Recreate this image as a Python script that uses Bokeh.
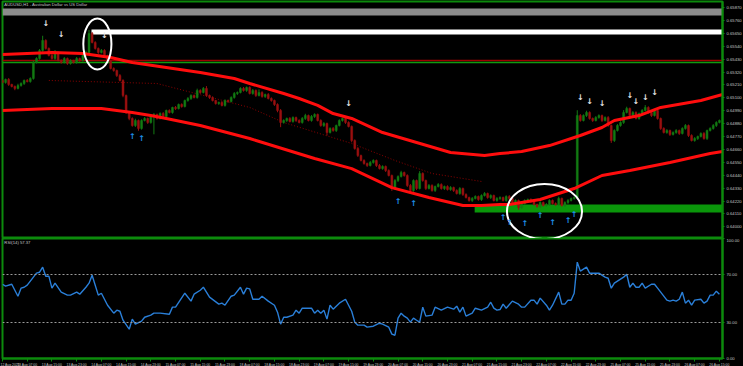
import numpy as np
from bokeh.plotting import figure
from bokeh.layouts import column
from bokeh.models import Range1d, FixedTicker, Label, Span, BoxAnnotation, PrintfTickFormatter
from bokeh.core.properties import value
from bokeh.embed import file_html
from bokeh.resources import INLINE

# ---------------- data ----------------
first_open = 0.65248
close = [
    0.65231, 0.65256, 0.65214, 0.65197, 0.65180, 0.65205, 0.65222, 0.65248, 0.65239, 0.65265,
    0.65401, 0.65435, 0.65504, 0.65589, 0.65521, 0.65461, 0.65435, 0.65487, 0.65418, 0.65401,
    0.65435, 0.65393, 0.65418, 0.65401, 0.65435, 0.65418, 0.65461, 0.65487, 0.65649, 0.65572,
    0.65521, 0.65487, 0.65504, 0.65461, 0.65418, 0.65350, 0.65333, 0.65290, 0.65248, 0.65120,
    0.64975, 0.64924, 0.64864, 0.64907, 0.64839, 0.64907, 0.64924, 0.64890, 0.64949, 0.64958,
    0.64924, 0.64966, 0.64941, 0.64992, 0.64975, 0.65018, 0.65009, 0.65043, 0.65026, 0.65077,
    0.65094, 0.65120, 0.65103, 0.65163, 0.65146, 0.65180, 0.65120, 0.65103, 0.65077, 0.65052,
    0.65060, 0.65035, 0.65077, 0.65069, 0.65103, 0.65137, 0.65146, 0.65180, 0.65163, 0.65188,
    0.65137, 0.65163, 0.65120, 0.65146, 0.65111, 0.65128, 0.65094, 0.65077, 0.65043, 0.64992,
    0.64890, 0.64907, 0.64924, 0.64898, 0.64932, 0.64907, 0.64890, 0.64924, 0.64949, 0.64907,
    0.64941, 0.64958, 0.64907, 0.64864, 0.64881, 0.64804, 0.64839, 0.64821, 0.64864, 0.64907,
    0.64924, 0.64890, 0.64856, 0.64736, 0.64668, 0.64608, 0.64566, 0.64540, 0.64523, 0.64549,
    0.64566, 0.64523, 0.64497, 0.64515, 0.64480, 0.64438, 0.64327, 0.64395, 0.64429, 0.64463,
    0.64438, 0.64353, 0.64310, 0.64395, 0.64327, 0.64455, 0.64395, 0.64327, 0.64353, 0.64310,
    0.64344, 0.64361, 0.64327, 0.64344, 0.64318, 0.64335, 0.64310, 0.64284, 0.64327, 0.64276,
    0.64250, 0.64225, 0.64242, 0.64259, 0.64233, 0.64267, 0.64284, 0.64250, 0.64267, 0.64225,
    0.64242, 0.64250, 0.64225, 0.64259, 0.64242, 0.64208, 0.64225, 0.64165, 0.64199, 0.64225,
    0.64233, 0.64216, 0.64190, 0.64173, 0.64208, 0.64182, 0.64190, 0.64225, 0.64199, 0.64190,
    0.64242, 0.64182, 0.64208, 0.64225, 0.64242, 0.64250, 0.64949, 0.64907, 0.64949, 0.64975,
    0.64924, 0.64907, 0.64932, 0.64949, 0.64907, 0.64932, 0.64864, 0.64736, 0.64821, 0.64864,
    0.64890, 0.64975, 0.65009, 0.64949, 0.64975, 0.64924, 0.64966, 0.64992, 0.65018, 0.64975,
    0.64949, 0.64992, 0.64924, 0.64839, 0.64804, 0.64821, 0.64787, 0.64804, 0.64821, 0.64796,
    0.64839, 0.64864, 0.64779, 0.64736, 0.64753, 0.64770, 0.64796, 0.64753, 0.64821, 0.64839,
    0.64864, 0.64890, 0.64907,
]
# wick lengths beyond the body, in points (0.00001)
wick_hi = [
    10, 8, 12, 6, 8, 15, 10, 8, 12, 10,
    15, 10, 12, 40, 10, 8, 12, 20, 8, 10,
    12, 8, 10, 6, 12, 8, 10, 15, 30, 12,
    10, 8, 12, 10, 6, 8, 10, 8, 12, 10,
    8, 12, 10, 15, 8, 10, 12, 8, 10, 12,
    8, 10, 12, 8, 10, 6, 12, 8, 10, 8,
    12, 10, 8, 15, 10, 12, 20, 8, 10, 6,
    8, 12, 10, 8, 10, 12, 8, 10, 12, 8,
    10, 12, 8, 25, 10, 8, 12, 10, 8, 10,
    12, 10, 8, 12, 10, 8, 10, 12, 15, 8,
    12, 10, 8, 10, 12, 8, 10, 12, 8, 10,
    8, 12, 10, 8, 10, 12, 8, 10, 8, 12,
    10, 8, 12, 10, 8, 10, 8, 12, 10, 15,
    8, 10, 12, 10, 8, 20, 10, 8, 12, 10,
    8, 12, 10, 8, 10, 12, 8, 10, 12, 8,
    10, 8, 12, 10, 8, 10, 12, 8, 10, 8,
    12, 10, 8, 10, 12, 8, 10, 8, 12, 10,
    8, 10, 12, 8, 10, 8, 12, 10, 8, 10,
    15, 8, 10, 12, 8, 10, 45, 12, 10, 15,
    10, 8, 12, 10, 8, 10, 12, 8, 10, 12,
    10, 20, 15, 8, 12, 10, 8, 12, 20, 10,
    12, 15, 10, 8, 10, 12, 8, 10, 12, 8,
    10, 12, 8, 10, 12, 8, 10, 12, 8, 10,
    12, 10, 8,
]
wick_lo = [
    8, 10, 12, 8, 15, 8, 10, 12, 8, 10,
    10, 8, 10, 12, 10, 8, 10, 12, 8, 10,
    8, 12, 10, 8, 10, 12, 8, 10, 12, 8,
    10, 12, 8, 10, 12, 8, 10, 12, 8, 15,
    12, 15, 10, 12, 20, 10, 8, 12, 10, 160,
    10, 8, 12, 10, 8, 10, 12, 8, 10, 8,
    10, 12, 8, 10, 12, 8, 10, 12, 8, 10,
    12, 8, 10, 12, 8, 10, 12, 8, 10, 12,
    8, 10, 12, 8, 10, 12, 8, 10, 12, 15,
    40, 10, 12, 8, 10, 12, 8, 10, 12, 8,
    10, 12, 8, 10, 12, 25, 8, 10, 12, 8,
    10, 12, 8, 15, 10, 12, 8, 10, 12, 8,
    10, 12, 8, 10, 12, 8, 20, 10, 12, 8,
    10, 12, 8, 10, 12, 8, 10, 12, 8, 10,
    12, 8, 10, 12, 8, 10, 12, 8, 10, 12,
    8, 10, 12, 8, 10, 12, 8, 10, 12, 8,
    10, 12, 8, 10, 12, 8, 10, 20, 12, 8,
    10, 12, 8, 10, 12, 8, 10, 12, 8, 10,
    12, 8, 10, 12, 8, 10, 12, 10, 8, 12,
    10, 12, 8, 10, 12, 8, 10, 20, 12, 8,
    10, 12, 8, 10, 12, 8, 10, 12, 8, 10,
    12, 8, 10, 12, 8, 10, 12, 8, 10, 12,
    8, 10, 12, 8, 10, 12, 8, 10, 12, 8,
    10, 12, 8,
]

# envelope bands (bar, price)
upper_band = [(0, 0.65470), (16, 0.65487), (26, 0.65478), (35, 0.65444), (42, 0.65401),
              (53, 0.65359), (64, 0.65316), (75, 0.65265), (80, 0.65222), (91, 0.65137),
              (96, 0.65094), (102, 0.65035), (107, 0.64966), (113, 0.64924), (123, 0.64804),
              (134, 0.64719), (145, 0.64634), (156, 0.64608), (161, 0.64625), (168, 0.64642),
              (177, 0.64693), (187, 0.64779), (194, 0.64847), (198, 0.64907), (206, 0.64949),
              (213, 0.65018), (226, 0.65077), (233, 0.65128)]
lower_band = [(0, 0.64992), (16, 0.65009), (32, 0.65009), (42, 0.64975), (48, 0.64949),
              (53, 0.64924), (64, 0.64864), (80, 0.64753), (101, 0.64583), (113, 0.64497),
              (126, 0.64335), (138, 0.64250), (149, 0.64182), (155, 0.64182), (161, 0.64190),
              (164, 0.64190), (174, 0.64233), (185, 0.64327), (194, 0.64438), (203, 0.64480),
              (216, 0.64549), (229, 0.64625), (233, 0.64642)]
trend_line = [(15, 0.65248), (50, 0.65222), (80, 0.65018), (91, 0.64890), (113, 0.64711),
              (127, 0.64566), (139, 0.64455), (155, 0.64387)]

# horizontal objects (bottom, top, start bar)
gray_zone = (0.65802, 0.65862)
white_zone = (0.65640, 0.65683, 28.8)
green_zone = (0.64122, 0.64190, 152.8)
red_level = 0.65418
green_level = 0.65401

# signal arrows (bar, price)
down_arrows = [(14, 0.65734), (19, 0.65640), (33, 0.65631), (112, 0.65052), (187, 0.65103),
               (190, 0.65069), (194, 0.65052), (203, 0.65120), (205, 0.65069), (208, 0.65103),
               (211, 0.65146)]
up_arrows = [(42, 0.64770), (45, 0.64753), (128, 0.64216), (133, 0.64199), (162, 0.64080),
             (164, 0.64037), (169, 0.64029), (174, 0.64097), (178, 0.64037), (183, 0.64054),
             (185, 0.64105)]

# highlight ellipses (bar, price, width bars, height price)
ellipses = [(30.7, 0.65559, 9.1, 0.00435), (175.4, 0.64131, 24.3, 0.00469)]

price_ticks = [0.64000, 0.64110, 0.64220, 0.64330, 0.64440, 0.64550, 0.64660, 0.64770,
               0.64880, 0.64990, 0.65100, 0.65210, 0.65320, 0.65430, 0.65540, 0.65650,
               0.65760, 0.65870]

rsi_points = [
    (0, 61.9), (1, 60.3), (3, 61.9), (5, 51.9), (6, 58.6), (7, 59.4), (8, 61.1), (10, 67.8),
    (11, 71.1), (12, 71.9), (13, 76.1), (14, 68.6), (15, 68.6), (16, 58.6), (17, 62.8),
    (19, 55.3), (21, 52.8), (22, 52.8), (24, 55.3), (25, 53.6), (27, 59.4), (28, 62.8),
    (29, 69.4), (31, 52.8), (32, 54.4), (34, 44.4), (36, 37.8), (37, 40.3), (38, 39.4),
    (39, 31.9), (41, 24.4), (42, 32.8), (43, 28.6), (45, 31.1), (46, 34.4), (48, 36.1),
    (49, 37.8), (51, 37.8), (54, 36.9), (55, 42.8), (56, 42.8), (59, 54.4), (61, 47.8),
    (62, 53.6), (64, 56.9), (65, 59.4), (67, 51.1), (70, 45.3), (71, 46.1), (72, 44.4),
    (74, 51.9), (75, 52.8), (77, 59.4), (78, 53.6), (79, 58.6), (80, 58.0),
    (81, 49.4), (83, 49.4), (84, 51.9), (86, 47.8), (88, 44.4), (89, 38.6), (90, 28.6),
    (91, 34.4), (92, 34.4), (94, 36.1), (95, 40.3), (96, 37.8), (97, 41.9), (100, 41.9),
    (101, 37.8), (102, 40.3), (103, 37.8), (104, 40.3), (105, 32.8), (106, 44.4),
    (107, 41.1), (109, 46.1), (111, 49.4), (113, 39.4), (114, 30.3), (115, 27.8),
    (117, 27.8), (118, 26.1), (120, 26.9), (122, 29.4), (123, 28.6), (125, 26.1),
    (126, 20.3), (127, 19.4), (128, 33.6), (129, 37.8), (130, 35.3), (131, 33.6),
    (132, 30.3), (133, 33.6), (134, 31.9), (135, 30.3), (136, 42.8), (137, 35.3),
    (139, 36.1), (140, 42.8), (142, 40.3), (144, 42.8), (146, 41.1), (147, 43.6),
    (148, 38.6), (149, 42.8), (150, 35.3), (152, 37.8), (153, 41.9), (155, 40.3),
    (157, 42.8), (158, 46.9), (159, 42.0), (160, 40.3), (161, 40.8),
    (162, 45.3), (163, 41.9), (165, 47.8), (167, 45.3), (168, 42.8), (169, 42.8),
    (171, 48.6), (172, 48.6), (173, 45.3), (174, 50.3), (176, 44.4), (177, 40.3),
    (178, 44.4), (180, 55.3), (181, 45.3), (182, 45.3), (183, 48.6), (184, 48.6),
    (185, 54.4), (186, 80.3), (187, 72.8), (189, 76.1), (190, 71.1), (193, 71.1),
    (195, 67.8), (196, 66.9), (197, 58.6), (198, 62.8), (201, 67.8), (202, 70.3),
    (203, 59.4), (204, 62.8), (205, 59.4), (206, 59.4), (207, 62.8), (208, 58.6),
    (210, 61.9), (211, 61.9), (212, 58.6), (215, 48.6), (216, 47.8), (217, 48.6),
    (218, 47.8), (219, 49.4), (220, 55.3), (221, 46.1), (222, 48.6), (223, 44.4),
    (224, 48.6), (226, 49.4), (227, 46.1), (228, 47.8), (229, 52.8), (230, 52.8),
    (231, 56.1), (232, 53.6),
]
rsi_levels = [70, 30]
rsi_ticks = [0, 30, 70, 100]

time_labels = ["12 Aug 2025", "13 Aug 07:00", "13 Aug 15:00", "13 Aug 23:00", "14 Aug 07:00",
               "14 Aug 15:00", "14 Aug 23:00", "15 Aug 07:00", "15 Aug 15:00", "15 Aug 23:00",
               "18 Aug 07:00", "18 Aug 15:00", "18 Aug 23:00", "19 Aug 07:00", "19 Aug 15:00",
               "19 Aug 23:00", "20 Aug 07:00", "20 Aug 15:00", "20 Aug 23:00", "21 Aug 07:00",
               "21 Aug 15:00", "21 Aug 23:00", "22 Aug 07:00", "22 Aug 15:00", "22 Aug 23:00",
               "25 Aug 07:00", "25 Aug 15:00", "25 Aug 23:00", "26 Aug 07:00", "26 Aug 15:00"]
bars_per_label = 8

# ---------------- style ----------------
FRAME = "#0c8a0c"
TXT = "#c4c4c4"
FONT = "Liberation Sans"
UP = "#137a13"
DOWN = "#9a1010"

n = len(close)
bars = np.arange(n)
closes = np.array(close)
opens = np.array([first_open] + close[:-1])
body_top = np.maximum(opens, closes)
body_bot = np.minimum(opens, closes)
highs = body_top + np.array(wick_hi) * 1e-5
lows = body_bot - np.array(wick_lo) * 1e-5
colors = [UP if c >= o else DOWN for o, c in zip(opens, closes)]

x_range = Range1d(0, 233.0)


def style(p, size="4.2px"):
    p.background_fill_color = "black"
    p.border_fill_color = "black"
    p.outline_line_color = FRAME
    p.outline_line_width = 2
    p.grid.visible = False
    for ax in p.axis:
        ax.axis_line_color = FRAME
        ax.axis_line_width = 2
        ax.major_tick_line_color = FRAME
        ax.major_tick_in = 0
        ax.major_tick_out = 2
        ax.minor_tick_line_color = None
        ax.major_label_text_color = TXT
        ax.major_label_text_font = FONT
        ax.major_label_text_font_size = size
        ax.major_label_standoff = 2


# ---------------- main price panel ----------------
p1 = figure(frame_width=720, frame_height=237, x_range=x_range,
            y_range=Range1d(0.63901, 0.65921), x_axis_location=None,
            y_axis_location="right", output_backend="svg", toolbar_location=None,
            title=None, min_border_left=2, min_border_top=1, min_border_bottom=0,
            min_border_right=0)
style(p1)
p1.yaxis.ticker = FixedTicker(ticks=price_ticks)
p1.yaxis.formatter = PrintfTickFormatter(format="%.5f")

p1.add_layout(BoxAnnotation(bottom=gray_zone[0], top=gray_zone[1], fill_color="#8c8c8c",
                            fill_alpha=1, line_color=None, level="underlay"))
p1.add_layout(BoxAnnotation(left=white_zone[2], bottom=white_zone[0], top=white_zone[1],
                            fill_color="white", fill_alpha=1, line_color=None, level="underlay"))
p1.add_layout(BoxAnnotation(left=green_zone[2], bottom=green_zone[0], top=green_zone[1],
                            fill_color="#0a960a", fill_alpha=1, line_color=None, level="underlay"))
p1.add_layout(Span(location=red_level, dimension="width", line_color="#a00000",
                   line_width=1.5, level="underlay"))
p1.add_layout(Span(location=green_level, dimension="width", line_color="#109a10",
                   line_width=1.5, level="underlay"))

p1.line([b for b, _ in trend_line], [v for _, v in trend_line], line_color="#8b0000",
        line_width=1, line_dash="1 2")

p1.segment(x0=bars, y0=lows, x1=bars, y1=highs, line_color=colors, line_width=1)
p1.vbar(x=bars, width=0.62, top=body_top, bottom=body_bot, fill_color=colors,
        line_color=colors, line_width=0.5)

p1.line([b for b, _ in upper_band], [v for _, v in upper_band], line_color="#ff0d0d",
        line_width=3)
p1.line([b for b, _ in lower_band], [v for _, v in lower_band], line_color="#ff0d0d",
        line_width=3)

p1.ellipse(x=[e[0] for e in ellipses], y=[e[1] for e in ellipses],
           width=[e[2] for e in ellipses], height=[e[3] for e in ellipses],
           fill_alpha=0, line_color="white", line_width=2)

p1.text(x=[b for b, _ in down_arrows], y=[v for _, v in down_arrows],
        text=["↓"] * len(down_arrows), text_color="#e8e8e8", text_font=value("DejaVu Sans"),
        text_font_size="8px", text_align="center", text_baseline="middle",
        text_font_style="bold")
p1.text(x=[b for b, _ in up_arrows], y=[v for _, v in up_arrows],
        text=["↑"] * len(up_arrows), text_color="#1e90e8", text_font=value("DejaVu Sans"),
        text_font_size="8px", text_align="center", text_baseline="middle",
        text_font_style="bold")

p1.add_layout(Label(x=0.6, y=0.65893, text="AUDUSD,H1 - Australian Dollar vs US Dollar",
                    text_color=TXT, text_font=FONT, text_font_size="4.2px",
                    text_baseline="middle"))
p1.add_layout(Label(x=233.2, y=red_level + 0.00003, text=f"{red_level:.5f}",
                    text_color="white", text_font=FONT, text_font_size="4.2px",
                    text_baseline="middle", background_fill_color="#d00000",
                    background_fill_alpha=1))
p1.add_layout(Label(x=233.2, y=green_level - 0.00012, text=f"{green_level:.5f}",
                    text_color="black", text_font=FONT, text_font_size="4.2px",
                    text_baseline="middle", background_fill_color="#22dd22",
                    background_fill_alpha=1))

# ---------------- RSI panel ----------------
p2 = figure(frame_width=720, frame_height=120, x_range=x_range, y_range=Range1d(0, 100),
            y_axis_location="right", output_backend="svg", toolbar_location=None,
            title=None, min_border_left=2, min_border_top=0, min_border_bottom=0,
            min_border_right=0)
style(p2)
p2.xaxis.major_label_text_font_size = "3.4px"
p2.yaxis.ticker = FixedTicker(ticks=rsi_ticks)
p2.yaxis.formatter = PrintfTickFormatter(format="%.2f")
label_ticks = [i * bars_per_label for i in range(len(time_labels))]
p2.xaxis.ticker = FixedTicker(ticks=label_ticks)
p2.xaxis.major_label_overrides = {t: s for t, s in zip(label_ticks, time_labels)}
p2.xaxis.major_label_text_align = "left"
p2.xaxis.major_label_standoff = 1
p2.xaxis.major_tick_out = 3

for lv in rsi_levels:
    p2.add_layout(Span(location=lv, dimension="width", line_color="#9a9a9a",
                       line_width=1, line_dash="2 2"))

p2.line([b for b, _ in rsi_points], [v for _, v in rsi_points], line_color="#2a7fd8",
        line_width=1.4)
p2.add_layout(Label(x=0.6, y=96.5, text="RSI(14) 57.37", text_color=TXT, text_font=FONT,
                    text_font_size="4.2px", text_baseline="middle"))

layout = column(p1, p2, spacing=0)
layout.styles = {"background-color": "black"}

open("out.html", "w").write(file_html(layout, INLINE))
